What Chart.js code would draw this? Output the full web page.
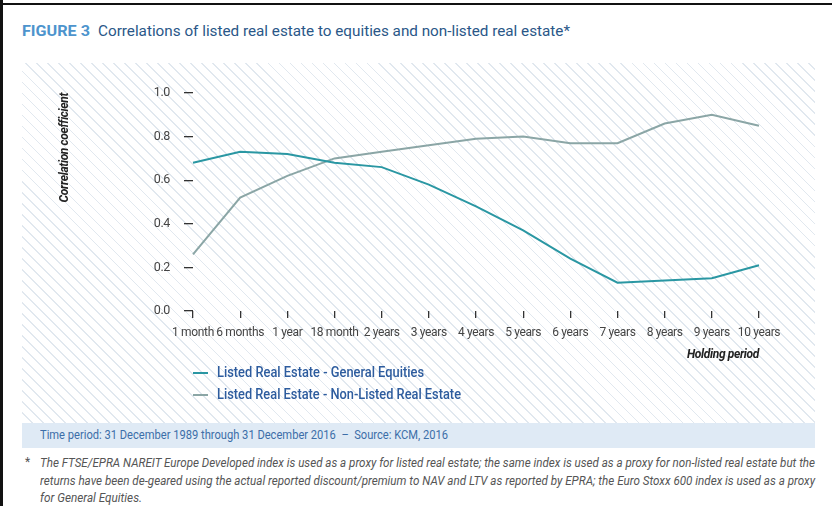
<!DOCTYPE html>
<html>
<head>
<meta charset="utf-8">
<script src="https://cdn.jsdelivr.net/npm/chart.js@4.4.1/dist/chart.umd.min.js"></script>
<style>
  html, body { margin: 0; padding: 0; background: #fff; }
  body { width: 832px; height: 506px; position: relative; overflow: hidden; font-family: Roboto, sans-serif; }
  .frame-left { position: absolute; left: 0; top: 0; width: 3px; height: 506px; background: #111; }
  .frame-top { position: absolute; left: 0; top: 3px; width: 832px; height: 2px; background: #111; }
  .fit { position: absolute; white-space: nowrap; transform-origin: 0 50%; }
  .fig { left: 22px; top: 22px; font-size: 15.5px; font-weight: bold; color: #4d94cd; }
  .ttl { left: 98px; top: 22px; font-size: 15.5px; color: #2a5788; }
  .hatch { position: absolute; left: 22px; top: 63px; width: 793px; height: 360px;
           background: repeating-linear-gradient(45deg, #ffffff 0px, #ffffff 6.6px, #e1e8ef 6.6px, #e1e8ef 7.8px); }
  #wrap { position: absolute; left: 0; top: 0; width: 832px; height: 366px; }
  .sw { position: absolute; left: 193px; width: 15px; height: 2px; }
  .leg { left: 217px; font-size: 14px; color: #2d5c9e; font-weight: 500; }
  .band { position: absolute; left: 22px; top: 423px; width: 793px; height: 25px; background: #dfeaf5; }
  .src { left: 40px; top: 427px; font-size: 12.5px; color: #3c6ea8; }
  .note { left: 40px; font-size: 12px; font-style: italic; color: #555; }
  .star { position: absolute; left: 25px; top: 455px; font-size: 12px; color: #555; }
</style>
</head>
<body>
<div class="frame-left"></div>
<div class="frame-top"></div>
<div class="fit fig" data-w="68">FIGURE 3</div>
<div class="fit ttl" data-w="472">Correlations of listed real estate to equities and non-listed real estate*</div>
<div class="hatch"></div>
<div id="wrap"><canvas id="c"></canvas></div>
<div id="legend"></div>
<div class="band"></div>
<div class="fit src" data-w="408">Time period: 31 December 1989 through 31 December 2016 &nbsp;–&nbsp; Source: KCM, 2016</div>
<div class="star">*</div>
<div class="fit note" style="top:456px" data-w="775">The FTSE/EPRA NAREIT Europe Developed index is used as a proxy for listed real estate; the same index is used as a proxy for non-listed real estate but the</div>
<div class="fit note" style="top:474px" data-w="775">returns have been de-geared using the actual reported discount/premium to NAV and LTV as reported by EPRA; the Euro Stoxx 600 index is used as a proxy</div>
<div class="fit note" style="top:491px" data-w="102">for General Equities.</div>

<script>
// Holding periods on the x axis
const holdingPeriods = ["1 month", "6 months", "1 year", "18 month", "2 years", "3 years", "4 years",
  "5 years", "6 years", "7 years", "8 years", "9 years", "10 years"];

// Correlation of listed real estate with general equities
const vsEquities = [0.68, 0.73, 0.72, 0.68, 0.66, 0.58, 0.48, 0.37, 0.24, 0.13, 0.14, 0.15, 0.21];

// Correlation of listed real estate with de-geared (non-listed) real estate
const vsNonListed = [0.26, 0.52, 0.62, 0.70, 0.73, 0.76, 0.79, 0.80, 0.77, 0.77, 0.86, 0.90, 0.85];

const seriesNames = ["Listed Real Estate - General Equities", "Listed Real Estate - Non-Listed Real Estate"];
const seriesColors = ["#2a97a3", "#8ba6a6"];

// Correlation coefficient ticks
const yTickValues = [0.0, 0.2, 0.4, 0.6, 0.8, 1.0];

const FONT = 'Roboto, sans-serif';

// Slightly tighter letter spacing for the axis text
const tightText = {
  id: 'tightText',
  beforeDraw: (c) => { c.ctx.letterSpacing = '-0.35px'; }
};

const chart = new Chart(document.getElementById('c'), {
  type: 'line',
  data: {
    labels: holdingPeriods,
    datasets: [
      { label: seriesNames[0], data: vsEquities, borderColor: seriesColors[0], backgroundColor: seriesColors[0],
        borderWidth: 2, pointRadius: 0, tension: 0 },
      { label: seriesNames[1], data: vsNonListed, borderColor: seriesColors[1], backgroundColor: seriesColors[1],
        borderWidth: 2, pointRadius: 0, tension: 0 }
    ]
  },
  plugins: [tightText],
  options: {
    responsive: true,
    maintainAspectRatio: false,
    animation: false,
    layout: { padding: { top: 93, left: 40, right: 73, bottom: 0 } },
    plugins: { legend: { display: false }, tooltip: { enabled: false } },
    scales: {
      x: {
        offset: false,
        border: { display: false },
        grid: { drawOnChartArea: false, drawTicks: true, tickLength: 7, color: '#333', lineWidth: 1.3 },
        ticks: { color: '#444', font: { family: FONT, size: 12 }, padding: 8, maxRotation: 0, autoSkip: false },
        title: { display: true, text: 'Holding period', align: 'end', color: '#222',
                 font: { family: FONT, size: 12, weight: 'bold', style: 'italic' }, padding: { top: 9, bottom: 4 } },
        afterFit: (s) => { s.height = 55; }
      },
      y: {
        min: 0, max: 1,
        border: { display: false },
        afterBuildTicks: (s) => { s.ticks = yTickValues.map(v => ({ value: v })); },
        grid: { drawOnChartArea: false, drawTicks: true, tickLength: 9, color: '#333', lineWidth: 1.3 },
        ticks: { color: '#444', font: { family: FONT, size: 12.5 }, padding: 14,
                 callback: (v) => Number(v).toFixed(1) },
        title: { display: true, text: 'Correlation coefficient', align: 'end', color: '#222',
                 font: { family: FONT, size: 12, weight: 'bold', style: 'italic' }, padding: { top: 18 } },
        afterFit: (s) => { s.width = 153; }
      }
    }
  }
});

// Legend listing the two series, one per row
const legendEl = document.getElementById('legend');
const legendRows = [{ y: 373, w: 207 }, { y: 395, w: 244 }];
chart.data.datasets.forEach((ds, i) => {
  const sw = document.createElement('div');
  sw.className = 'sw';
  sw.style.top = (legendRows[i].y - 1) + 'px';
  sw.style.background = ds.borderColor;
  legendEl.appendChild(sw);
  const txt = document.createElement('div');
  txt.className = 'fit leg';
  txt.style.top = (legendRows[i].y - 9) + 'px';
  txt.dataset.w = legendRows[i].w;
  txt.textContent = ds.label;
  legendEl.appendChild(txt);
});

// Squeeze each text run horizontally to its set width
document.querySelectorAll('.fit').forEach(el => {
  const target = parseFloat(el.dataset.w);
  const natural = el.getBoundingClientRect().width;
  if (target && natural) el.style.transform = 'scaleX(' + (target / natural) + ')';
});
</script>
</body>
</html>
